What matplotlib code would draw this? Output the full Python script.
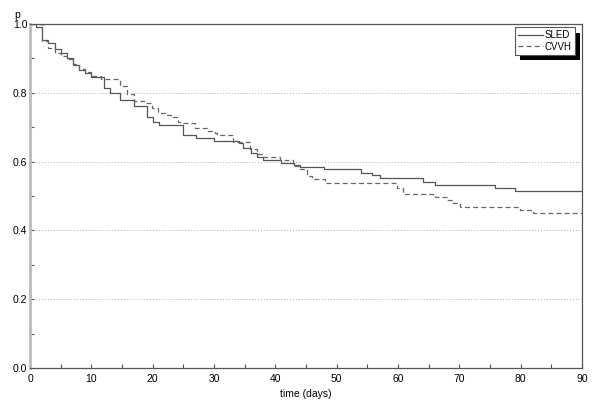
import matplotlib
matplotlib.use("Agg")
import matplotlib.pyplot as plt
from matplotlib.ticker import MultipleLocator
import matplotlib.patheffects as pe

plt.rcParams.update({
    'font.family': ['Liberation Sans', 'DejaVu Sans'],
    'font.size': 7.5,
    'xtick.direction': 'in', 'ytick.direction': 'in',
})

# Kaplan-Meier style step data (day where step starts, survival after step)
sled_days = [0, 1, 2, 3, 4, 5, 6, 7, 8, 9, 10, 12, 13, 14.7, 17, 19, 20, 21,
             25, 27, 30, 34, 34.8, 36, 37, 38, 41, 43, 44, 48, 54, 55.7, 57,
             64, 66, 75.8, 79, 90]
sled_p = [1.0, 0.99, 0.953, 0.944, 0.926, 0.915, 0.90, 0.881, 0.866, 0.858,
          0.845, 0.813, 0.80, 0.78, 0.762, 0.73, 0.716, 0.706, 0.677, 0.669,
          0.661, 0.653, 0.641, 0.626, 0.614, 0.606, 0.597, 0.59, 0.585, 0.578,
          0.568, 0.56, 0.551, 0.542, 0.532, 0.522, 0.515, 0.515]

cvvh_days = [0, 2, 3, 4, 5, 6, 7, 8, 9, 10, 11.5, 14.7, 15.8, 17, 18.9, 19.9,
             20.9, 22, 23.2, 24.1, 25, 26.9, 28.9, 30.2, 30.5, 33.1, 35.9, 37,
             38, 40.8, 42.9, 44, 45.2, 46, 48.1, 59.8, 60.8, 66, 68, 69, 70.1,
             79.9, 82, 90]
cvvh_p = [1.0, 0.95, 0.93, 0.915, 0.907, 0.897, 0.885, 0.87, 0.86, 0.85, 0.839,
          0.82, 0.797, 0.776, 0.769, 0.755, 0.742, 0.735, 0.729, 0.716, 0.711,
          0.697, 0.69, 0.684, 0.677, 0.658, 0.636, 0.621, 0.614, 0.605, 0.587,
          0.578, 0.558, 0.548, 0.539, 0.522, 0.506, 0.496, 0.488, 0.479, 0.467,
          0.459, 0.45, 0.45]

fig = plt.figure(figsize=(6.0, 4.05), dpi=100)
ax = fig.add_axes([0.05, 0.0914, 0.92, 0.8493])

ax.step(sled_days, sled_p, where='post', color='#555555', lw=0.9, label='SLED')
ax.step(cvvh_days, cvvh_p, where='post', color='#666666', lw=0.9,
        linestyle=(0, (4, 2.5)), label='CVVH')

ax.set_xlim(0, 90)
ax.set_ylim(0, 1.0)
ax.xaxis.set_major_locator(MultipleLocator(10))
ax.xaxis.set_minor_locator(MultipleLocator(5))
ax.yaxis.set_major_locator(MultipleLocator(0.2))
ax.yaxis.set_minor_locator(MultipleLocator(0.1))
ax.yaxis.set_major_formatter(plt.FuncFormatter(lambda v, _: f"{v:.1f}"))
ax.tick_params(which='both', length=3, width=0.8, color='#555555', pad=2)
ax.tick_params(axis='x', pad=4)

for y in [0.2, 0.4, 0.6, 0.8]:
    ax.axhline(y, color='#aaaaaa', lw=0.7, linestyle=(0, (1, 2)), zorder=0)

for s in ['top', 'right', 'bottom']:
    ax.spines[s].set_color('#555555')
    ax.spines[s].set_linewidth(0.9)
ax.spines['left'].set_color('#bbbbbb')
ax.spines['left'].set_linewidth(2)

ax.set_xlabel('time (days)', labelpad=4)
fig.text(17 / 600, 1 - 15 / 405, 'p', ha='center', va='center', fontsize=7.5)

leg = ax.legend(loc='upper right', bbox_to_anchor=(0.987, 0.99), frameon=True,
                fancybox=False, shadow=False, framealpha=1, handlelength=2.6,
                handletextpad=0.2, borderpad=0.3, borderaxespad=0,
                labelspacing=0.15, fontsize=7)
frame = leg.get_frame()
frame.set_facecolor('white')
frame.set_edgecolor('#555555')
frame.set_linewidth(0.8)
frame.set_path_effects([pe.SimplePatchShadow(offset=(4, -4), shadow_rgbFace='black', alpha=1),
                        pe.Normal()])

fig.savefig('out.png', dpi=100)
